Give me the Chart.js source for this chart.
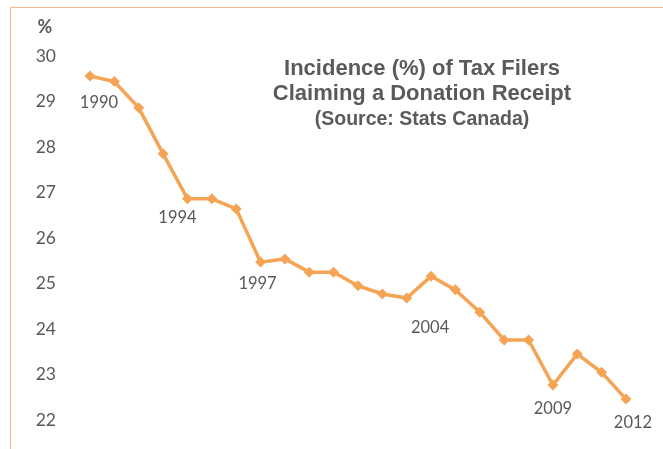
<!DOCTYPE html>
<html>
<head>
<meta charset="utf-8">
<script src="https://cdn.jsdelivr.net/npm/chart.js@4"></script>
<style>
  html, body { margin: 0; padding: 0; background: #fff; }
  #wrap { position: relative; width: 663px; height: 449px; overflow: hidden; }
  #frame { position: absolute; left: 10px; top: 7px; width: 700px; height: 500px;
           border: 1.5px solid #F3B88C; box-sizing: border-box; }
  canvas { position: absolute; left: 0; top: 0; }
</style>
</head>
<body>
<div id="wrap">
  <div id="frame"></div>
  <canvas id="c" width="663" height="449"></canvas>
</div>
<script>
const years = ["1990","1991","1992","1993","1994","1995","1996","1997","1998","1999","2000","2001","2002","2003","2004","2005","2006","2007","2008","2009","2010","2011","2012"];
const incidence = [29.56, 29.44, 28.86, 27.85, 26.86, 26.86, 26.64, 25.47, 25.54, 25.25, 25.25, 24.95, 24.77, 24.68, 25.16, 24.86, 24.37, 23.76, 23.76, 22.77, 23.45, 23.05, 22.46];
const labelledYears = ["1990","1994","1997","2004","2009","2012"];
const titleLines = ["Incidence (%) of Tax Filers", "Claiming a Donation Receipt", "(Source: Stats Canada)"];
const yTicks = [22, 23, 24, 25, 26, 27, 28, 29, 30];

const labelOffsets = {"1990":[9,27],"1994":[-10,19],"1997":[-3,22],"2004":[-1,51],"2009":[0,24],"2012":[7,24]};

const overlay = {
  id: 'overlay',
  afterDatasetsDraw(chart) {
    const ctx = chart.ctx;
    const meta = chart.getDatasetMeta(0);
    const yScale = chart.scales.y;
    ctx.save();
    // year labels
    ctx.fillStyle = '#595959';
    ctx.font = '16.5px Lato, "Open Sans", sans-serif';
    ctx.textAlign = 'center';
    ctx.textBaseline = 'middle';
    labelledYears.forEach(y => {
      const i = years.indexOf(y);
      const pt = meta.data[i];
      const off = labelOffsets[y];
      ctx.fillText(y, pt.x + off[0], pt.y + off[1]);
    });
    // percent sign
    ctx.font = 'bold 18px Lato, "Open Sans", sans-serif';
    ctx.textAlign = 'center';
    ctx.fillText('%', 45, yScale.getPixelForValue(30) - 29);
    // title
    ctx.fillStyle = '#5a5a5a';
    ctx.font = 'bold 22px "Liberation Sans", Arial, sans-serif';
    ctx.fillText(titleLines[0], 422, 69);
    ctx.fillText(titleLines[1], 422, 94);
    ctx.font = 'bold 19.5px "Liberation Sans", Arial, sans-serif';
    ctx.fillText(titleLines[2], 422, 120);
    ctx.restore();
  }
};

new Chart(document.getElementById('c'), {
  type: 'line',
  data: {
    labels: years,
    datasets: [{
      data: incidence,
      borderColor: '#F5A456',
      backgroundColor: '#F5A456',
      borderWidth: 3.5,
      pointStyle: 'rectRot',
      pointRadius: 5.5,
      pointHoverRadius: 5.5,
      pointBorderWidth: 0,
      tension: 0
    }]
  },
  options: {
    responsive: false,
    animation: false,
    devicePixelRatio: 1,
    layout: { autoPadding: false, padding: { left: 0, right: 37, top: 56, bottom: 29 } },
    plugins: { legend: { display: false }, title: { display: false }, tooltip: { enabled: false } },
    scales: {
      x: { type: 'category', offset: false, display: false },
      y: {
        min: 22, max: 30,
        afterBuildTicks(scale) { scale.ticks = yTicks.map(v => ({ value: v })); },
        afterFit(scale) { scale.width = 90; },
        grid: { display: false, drawTicks: true, tickLength: 34 },
        border: { display: false },
        ticks: {
          padding: 0,
          color: '#595959',
          font: { family: 'Lato, "Open Sans", sans-serif', size: 17.5 }
        }
      }
    }
  },
  plugins: [overlay]
});
</script>
</body>
</html>
